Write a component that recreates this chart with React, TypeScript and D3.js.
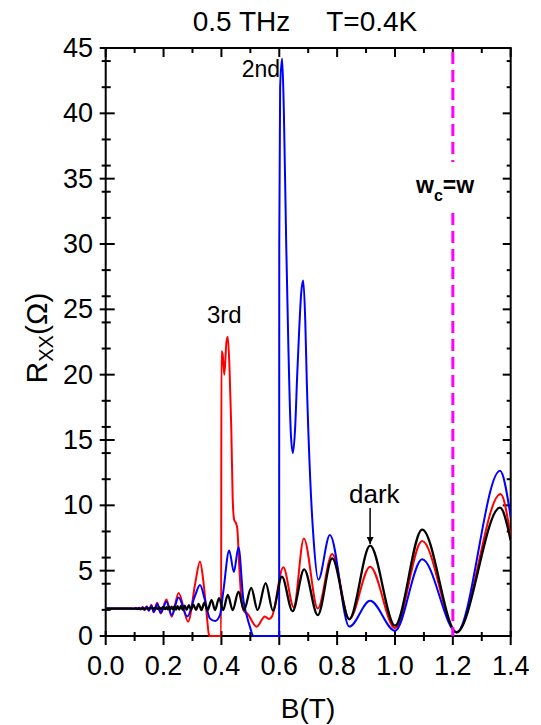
import React from "react";
import * as d3 from "d3";

// ---------- data ----------
const blackPts: [number, number][] = [
  [0, 2.1], [0.1, 2.1], [0.15, 2.12], [0.16, 2.16], [0.165, 2.08], [0.172, 2.17], [0.178, 2.07],
  [0.185, 2.19], [0.191, 2.06], [0.198, 2.2], [0.206, 2.05], [0.21, 2.21], [0.214, 2.04],
  [0.2185, 2.22], [0.223, 2.04], [0.2275, 2.24], [0.2325, 2.03], [0.2375, 2.26], [0.243, 2.02],
  [0.248, 2.28], [0.254, 2.02], [0.26, 2.3], [0.266, 2.01], [0.273, 2.33], [0.28, 2.0],
  [0.2875, 2.36], [0.295, 2.0], [0.303, 2.4], [0.312, 2.0], [0.321, 2.46], [0.331, 1.99],
  [0.341, 2.55], [0.352, 1.98], [0.366, 2.75], [0.378, 1.98], [0.392, 2.9], [0.406, 1.98],
  [0.422, 3.15], [0.439, 1.98], [0.459, 3.4], [0.478, 1.98], [0.503, 3.68], [0.525, 1.98],
  [0.553, 4.05], [0.578, 1.94], [0.609, 4.54], [0.646, 1.9], [0.686, 5.1], [0.733, 1.6],
  [0.783, 5.94], [0.842, 1.28], [0.914, 6.91], [1.0, 0.79], [1.094, 8.14], [1.213, 0.28],
  [1.363, 9.82], [1.4, 7.3],
];

const redPts: [number, number][] = [
  [0, 2.1], [0.05, 2.1], [0.09, 2.1], [0.096, 2.07], [0.104, 2.15], [0.109, 2.05],
  [0.115, 2.17], [0.121, 2.03], [0.128, 2.22], [0.134, 1.98], [0.142, 2.28], [0.149, 1.93],
  [0.158, 2.4], [0.166, 1.82], [0.178, 2.55], [0.19, 1.72], [0.21, 2.8], [0.228, 1.48],
  [0.252, 3.3], [0.285, 1.1], [0.31, 4.1], [0.326, 5.7], [0.337, 4.3], [0.349, 1.7],
  [0.357, 0.08], [0.36, 0], [0.399, 0], [0.4, 21.8], [0.404, 21.6], [0.41, 20.0],
  [0.417, 22.4], [0.422, 22.9], [0.428, 20.5], [0.434, 16.0], [0.439, 10.5], [0.444, 8.9],
  [0.451, 8.6], [0.455, 8.2], [0.462, 5.2], [0.47, 2.6], [0.48, 1.85], [0.488, 1.75],
  [0.522, 0.71], [0.55, 1.5], [0.565, 1.3], [0.575, 1.5], [0.614, 5.26], [0.65, 2.2],
  [0.685, 7.47], [0.733, 2.1], [0.783, 6.27], [0.842, 1.3], [0.914, 5.3], [1.0, 0.6],
  [1.094, 7.27], [1.213, 0.28], [1.365, 10.86], [1.4, 7.6],
];

const bluePts: [number, number][] = [
  [0, 2.1], [0.05, 2.1], [0.09, 2.1], [0.096, 2.08], [0.104, 2.14], [0.109, 2.06],
  [0.115, 2.15], [0.121, 2.04], [0.128, 2.19], [0.134, 2.0], [0.142, 2.24], [0.149, 1.96],
  [0.158, 2.32], [0.166, 1.86], [0.178, 2.45], [0.19, 1.78], [0.21, 2.63], [0.228, 1.6],
  [0.252, 2.95], [0.282, 1.5], [0.309, 3.1], [0.326, 3.9], [0.343, 2.75], [0.36, 1.35],
  [0.378, 1.15], [0.395, 1.6], [0.407, 3.5], [0.427, 6.55], [0.443, 4.9], [0.459, 6.8],
  [0.476, 2.75], [0.487, 1.6], [0.5, 0.6], [0.51, 0], [0.5995, 0], [0.6, 30], [0.603, 42],
  [0.61, 44.2], [0.616, 40], [0.624, 30], [0.631, 22.6], [0.64, 15.5], [0.647, 14.0],
  [0.655, 16], [0.662, 20], [0.669, 23.5], [0.676, 26.3], [0.683, 27.2], [0.69, 24],
  [0.695, 19.6], [0.707, 12], [0.718, 7.6], [0.735, 4.3], [0.775, 7.73], [0.842, 0.72],
  [0.914, 2.7], [1.0, 0.4], [1.094, 5.87], [1.213, 0.28], [1.363, 12.65], [1.4, 9.1],
];

const xDomain: [number, number] = [0, 1.4];
const yDomain: [number, number] = [0, 45];
const xTickLabels = ["0.0", "0.2", "0.4", "0.6", "0.8", "1.0", "1.2", "1.4"];
const resonanceB = 1.2;

// ---------- geometry ----------
const W = 541;
const H = 725;
const L = 105.7, R = 510.7, T = 48, Bm = 636;
const FONT = "'Liberation Sans', Arial, Helvetica, sans-serif";

export default function App() {
  const x = d3.scaleLinear().domain(xDomain).range([L, R]);
  const y = d3.scaleLinear().domain(yDomain).range([Bm, T]);
  const line = d3
    .line<[number, number]>()
    .x((d) => x(d[0]))
    .y((d) => y(d[1]))
    .curve(d3.curveMonotoneX);

  const xMajor = x.ticks(7);
  const xMinor = x.ticks(14).filter((v) => !xMajor.some((m) => Math.abs(m - v) < 1e-9));
  const yMajor = y.ticks(9);
  const yMinor = y.ticks(18).filter((v) => !yMajor.some((m) => Math.abs(m - v) < 1e-9));

  const sw = 2;
  return (
    <svg
      width={W}
      height={H}
      style={{ position: "absolute", left: 0, top: 0, background: "#fff" }}
      fontFamily={FONT}
    >
      <defs>
        <clipPath id="plotclip">
          <rect x={L} y={T - 2} width={R - L} height={Bm - T + 4} />
        </clipPath>
        <marker id="arrowhead" viewBox="0 0 10 10" refX="10" refY="5" markerWidth="5" markerHeight="5" orient="auto">
          <path d="M0,0 L10,5 L0,10 z" fill="#000" />
        </marker>
      </defs>

      {/* title */}
      <text x={305} y={31} fontSize={28} textAnchor="middle">
        <tspan>0.5 THz</tspan>
        <tspan dx={36}>T=0.4K</tspan>
      </text>

      {/* frame */}
      <rect x={L} y={T} width={R - L} height={Bm - T} fill="none" stroke="#000" strokeWidth={2} />

      {/* ticks */}
      <g stroke="#000" strokeWidth={2}>
        {xMajor.map((v) => (
          <line key={"bM" + v} x1={x(v)} x2={x(v)} y1={Bm - 5} y2={Bm + 9} />
        ))}
        {xMinor.map((v) => (
          <line key={"bm" + v} x1={x(v)} x2={x(v)} y1={Bm - 4} y2={Bm + 5} />
        ))}
        {xMajor.map((v) => (
          <line key={"tM" + v} x1={x(v)} x2={x(v)} y1={T} y2={T + 9} />
        ))}
        {xMinor.map((v) => (
          <line key={"tm" + v} x1={x(v)} x2={x(v)} y1={T} y2={T + 5} />
        ))}
        {yMajor.map((v) => (
          <line key={"lM" + v} x1={L - 6} x2={L + 9} y1={y(v)} y2={y(v)} />
        ))}
        {yMinor.map((v) => (
          <line key={"lm" + v} x1={L - 4} x2={L + 5} y1={y(v)} y2={y(v)} />
        ))}
        {yMajor.map((v) => (
          <line key={"rM" + v} x1={R - 8} x2={R} y1={y(v)} y2={y(v)} />
        ))}
        {yMinor.map((v) => (
          <line key={"rm" + v} x1={R - 4} x2={R} y1={y(v)} y2={y(v)} />
        ))}
      </g>

      {/* curves */}
      <g clipPath="url(#plotclip)" fill="none" strokeLinejoin="round">
        <path d={line(redPts) || ""} stroke="#ff0000" strokeWidth={sw} />
        <path d={line(bluePts) || ""} stroke="#0000ff" strokeWidth={sw} />
        <path d={line(blackPts) || ""} stroke="#000000" strokeWidth={2.3} />
      </g>

      {/* resonance dashed line */}
      <g stroke="#ff00ff" strokeWidth={3} strokeDasharray="12,6">
        <line x1={x(resonanceB)} x2={x(resonanceB)} y1={T + 4} y2={162} />
        <line x1={x(resonanceB)} x2={x(resonanceB)} y1={213} y2={Bm} />
      </g>

      {/* tick labels */}
      <g fontSize={27} fill="#000">
        {xMajor.map((v, i) => (
          <text key={"xl" + v} x={x(v)} y={675} textAnchor="middle">
            {xTickLabels[i]}
          </text>
        ))}
        {yMajor.map((v) => (
          <text key={"yl" + v} x={93} y={y(v)} textAnchor="end" dominantBaseline="central">
            {String(v)}
          </text>
        ))}
      </g>

      {/* axis titles */}
      <text x={308} y={718} fontSize={28} textAnchor="middle">
        B(T)
      </text>
      <text transform="translate(47,338) rotate(-90)" fontSize={30} textAnchor="middle">
        <tspan>R</tspan>
        <tspan fontSize={20} dy={6}>XX</tspan>
        <tspan dy={-6}>(Ω)</tspan>
      </text>

      {/* annotations */}
      <text x={280} y={77} fontSize={23} textAnchor="end">2nd</text>
      <text x={207} y={323} fontSize={24}>3rd</text>
      <text x={349} y={503} fontSize={26}>dark</text>
      <line x1={x(0.914)} x2={x(0.914)} y1={508} y2={544} stroke="#000" strokeWidth={1.5} markerEnd="url(#arrowhead)" />
      <text x={416} y={193} fontSize={23} fontWeight="bold">
        <tspan>w</tspan>
        <tspan fontSize={16} dy={8}>c</tspan>
        <tspan dy={-8}>=w</tspan>
      </text>
    </svg>
  );
}
